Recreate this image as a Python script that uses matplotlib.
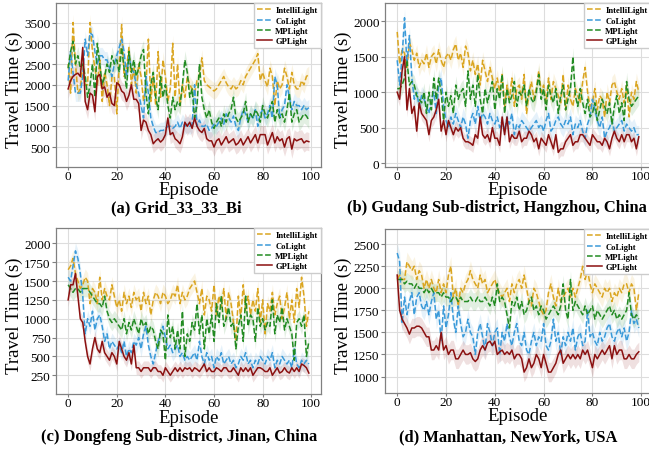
import numpy as np
import matplotlib
matplotlib.use("Agg")
import matplotlib.pyplot as plt

plt.rcParams['font.family'] = ['Liberation Serif', 'DejaVu Serif']

methods = ["IntelliLight", "CoLight", "MPLight", "GPLight"]
colors = ["#DAA520", "#3A9AD9", "#228B22", "#8B1010"]
styles = ["--", "--", "--", "-"]

# (a) Grid_33_33_Bi
a_intelli = [2500, 1800, 3500, 2500, 1800, 1900, 2500, 2000, 2000, 3500,
             2800, 2400, 2000, 2600, 1600, 2300, 2000, 1500, 2200, 2200,
             1300, 2500, 3450, 2200, 2400, 2900, 2000, 2400, 1800, 2500,
             2200, 1600, 2000, 3100, 1600, 2200, 1500, 2800, 1700, 2600,
             2200, 1600, 1900, 3000, 1700, 2500, 1500, 2000, 1700, 2200,
             2000, 1900, 1800, 2100, 2200, 2650, 2100, 2000, 1950, 1900,
             1850, 1900, 2000, 2100, 2200, 2050, 1950, 1900, 2000, 1900,
             1950, 2100, 2000, 2200, 2300, 2400, 2500, 2600, 2750, 2100,
             2300, 2100, 1950, 2400, 2200, 1500, 2100, 1900, 2000, 2400,
             2200, 1900, 2300, 2000, 1900, 1900, 2100, 2000, 2200, 2250]
a_co = [2100, 2800, 2300, 1800, 1800, 1800, 2200, 3100, 2700, 3250,
        3200, 2800, 2500, 2700, 2700, 2600, 2600, 2400, 2200, 2500,
        2700, 2900, 3100, 2800, 2200, 2700, 2400, 2300, 2000, 1800,
        1500, 1200, 2200, 1800, 1200, 1000, 850, 850, 900, 900,
        950, 1000, 1000, 950, 1000, 1100, 950, 1100, 1000, 1050,
        1000, 1050, 2000, 1000, 1150, 1000, 1000, 1050, 900, 950,
        1050, 1000, 1100, 1200, 1050, 1300, 1200, 1100, 1250, 1000,
        900, 1200, 1400, 1300, 1100, 1300, 1200, 1400, 1000, 1300,
        1400, 1200, 1300, 1500, 1200, 2200, 2000, 1200, 1400, 1500,
        2000, 1700, 1400, 1600, 1500, 1500, 1400, 1500, 1400, 1450]
a_mp = [2400, 2800, 3050, 2500, 2700, 2400, 2500, 2200, 1700, 2000,
        2500, 1700, 3000, 2500, 2000, 2200, 2500, 2300, 2700, 2500,
        2600, 2300, 2900, 2400, 1900, 2800, 2300, 2600, 2200, 2400,
        2700, 2850, 1800, 1300, 2000, 2300, 1700, 1400, 2200, 1700,
        2000, 1500, 1200, 1700, 1400, 1600, 1500, 2000, 2600, 2300,
        1700, 1900, 1200, 1500, 2500, 1700, 1400, 1200, 1400, 1100,
        950, 1100, 1200, 1000, 1300, 1100, 1300, 1400, 1700, 1200,
        1100, 1200, 1300, 1600, 1100, 1300, 1200, 1400, 1300, 1100,
        1500, 1300, 1200, 1400, 1600, 1100, 1400, 1200, 1300, 1100,
        1400, 1800, 1100, 1300, 1400, 1100, 1200, 1300, 1250, 1150]
a_gp = [1900, 2100, 2200, 2250, 2280, 2200, 2900, 1600, 1400, 1800,
        1750, 1350, 2200, 2250, 1900, 1950, 1700, 1800, 1550, 1500,
        2050, 2000, 1850, 1800, 1600, 1750, 2000, 1650, 1650, 1550,
        900, 1150, 1100, 900, 800, 580, 650, 700, 620, 680,
        800, 1200, 800, 850, 700, 650, 580, 750, 1100, 1000,
        1100, 950, 1200, 1000, 900, 850, 950, 700, 650, 650,
        500, 650, 700, 550, 650, 750, 600, 650, 700, 550,
        600, 700, 550, 650, 750, 600, 700, 800, 600, 800,
        800, 800, 550, 700, 850, 600, 750, 650, 700, 500,
        700, 750, 450, 700, 650, 680, 700, 600, 650, 630]

# (b) Gudang Sub-district, Hangzhou
b_intelli = [1850, 1400, 1600, 1550, 1350, 1700, 1600, 1450, 1550, 1350,
             1450, 1400, 1550, 1350, 1500, 1550, 1400, 1600, 1450, 1350,
             1500, 1550, 1450, 1600, 1680, 1450, 1550, 1350, 1650, 1550,
             1300, 1450, 1250, 1400, 1100, 1450, 1300, 1150, 1350, 1200,
             1050, 1200, 1000, 1250, 800, 1100, 900, 1200, 800, 1050,
             1100, 900, 1250, 700, 1000, 1150, 900, 1050, 1300, 1000,
             1100, 850, 1200, 900, 1150, 1050, 950, 850, 1250, 750,
             1100, 900, 800, 1050, 950, 850, 1150, 1350, 1000, 800,
             850, 1050, 750, 950, 900, 650, 1000, 850, 1100, 1150,
             1000, 900, 1050, 850, 1100, 650, 1000, 900, 1150, 1000]
b_co = [1450, 1100, 1500, 2050, 1400, 1800, 1200, 900, 1000, 800,
        950, 900, 800, 700, 900, 1000, 700, 1100, 1200, 800,
        600, 500, 650, 550, 700, 600, 500, 650, 550, 350,
        600, 700, 550, 800, 600, 700, 650, 550, 700, 600,
        550, 650, 500, 600, 450, 650, 550, 700, 400, 550,
        500, 600, 550, 500, 450, 500, 550, 600, 500, 550,
        450, 600, 700, 450, 500, 600, 650, 550, 500, 600,
        550, 650, 400, 550, 500, 600, 450, 350, 550, 650,
        900, 750, 600, 500, 650, 350, 450, 500, 600, 450,
        500, 550, 600, 450, 550, 500, 450, 500, 400, 400]
b_mp = [1050, 1050, 1100, 1200, 1450, 1100, 1150, 1100, 950, 900,
        850, 1000, 700, 1000, 750, 1200, 900, 1200, 1000, 600,
        1000, 800, 950, 700, 1100, 900, 1000, 1050, 800, 1300,
        900, 1100, 800, 1250, 900, 700, 1050, 850, 1000, 1150,
        750, 1050, 900, 1250, 700, 1050, 850, 950, 1150, 800,
        1000, 950, 1100, 800, 1050, 900, 850, 1000, 1250, 900,
        1050, 750, 1100, 950, 850, 1050, 700, 950, 1100, 750,
        900, 1050, 1500, 950, 800, 1050, 850, 700, 900, 650,
        700, 850, 600, 750, 900, 800, 700, 850, 550, 800,
        950, 700, 850, 600, 1150, 900, 800, 850, 900, 950]
b_gp = [1000, 900, 1300, 1500, 750, 1050, 700, 800, 450, 850,
        700, 650, 600, 400, 600, 650, 750, 900, 450, 600,
        400, 600, 500, 400, 500, 450, 500, 350, 300, 300,
        280, 250, 400, 350, 650, 400, 350, 400, 300, 500,
        350, 350, 250, 650, 400, 650, 300, 400, 350, 350,
        450, 300, 350, 350, 450, 400, 300, 350, 200, 350,
        300, 250, 400, 300, 200, 400, 150, 200, 200, 300,
        350, 400, 250, 300, 300, 400, 400, 350, 300, 250,
        400, 350, 300, 300, 250, 350, 300, 200, 350, 450,
        350, 300, 400, 300, 400, 400, 300, 350, 200, 370]

# (c) Dongfeng Sub-district, Jinan
c_intelli = [1650, 1700, 1800, 1600, 1500, 1400, 1450, 1550, 1500, 1200,
             1400, 1350, 1200, 1550, 1250, 1400, 1300, 1250, 1450, 1300,
             1150, 1250, 1100, 1350, 1200, 1300, 1150, 1350, 1250, 1300,
             1100, 1350, 1200, 1300, 1050, 1250, 1350, 1300, 1200, 1350,
             1300, 1200, 1250, 1350, 1300, 1450, 1200, 1350, 1250, 1300,
             1400, 1450, 1500, 1350, 1200, 1400, 1050, 1300, 1250, 1100,
             1450, 1050, 1300, 1150, 1400, 1000, 1350, 1200, 950, 700,
             1300, 1000, 1450, 1100, 1300, 1050, 1250, 1100, 1400, 950,
             1250, 800, 1200, 1100, 1350, 1050, 1200, 1300, 1000, 1150,
             1350, 1000, 1250, 950, 1400, 1150, 1550, 1300, 900, 1100]
c_co = [1550, 1500, 1700, 1900, 1800, 1600, 1300, 800, 1000, 900,
        1100, 850, 1000, 1050, 900, 700, 800, 600, 700, 650,
        600, 650, 550, 700, 500, 600, 550, 700, 650, 750,
        600, 800, 900, 650, 500, 400, 550, 700, 800, 900,
        750, 600, 650, 550, 600, 650, 500, 550, 450, 500,
        450, 500, 550, 450, 700, 500, 400, 550, 450, 500,
        350, 500, 450, 550, 400, 450, 500, 400, 450, 350,
        400, 500, 450, 550, 400, 450, 350, 450, 400, 500,
        450, 400, 500, 450, 550, 350, 450, 400, 500, 450,
        400, 450, 350, 600, 400, 350, 450, 400, 450, 400]
c_mp = [1450, 1400, 1350, 1400, 1400, 1350, 1400, 1400, 1400, 1350,
        1300, 1250, 1200, 1200, 1150, 1300, 1100, 1000, 950, 1000,
        950, 900, 850, 1000, 800, 950, 850, 1000, 900, 800,
        1000, 900, 950, 800, 900, 850, 700, 600, 850, 800,
        450, 1050, 750, 900, 600, 850, 600, 1100, 500, 800,
        700, 950, 850, 1200, 800, 1050, 600, 1000, 800, 1050,
        700, 1200, 950, 1300, 900, 1000, 1150, 900, 950, 600,
        900, 1050, 700, 1300, 900, 1050, 1000, 700, 1150, 900,
        1000, 850, 950, 900, 1250, 800, 1050, 950, 1150, 850,
        1000, 900, 800, 450, 950, 1000, 900, 1050, 500, 700]
c_gp = [1250, 1450, 1450, 1600, 1300, 1000, 950, 700, 500, 400,
        600, 750, 600, 550, 700, 550, 500, 450, 550, 500,
        400, 700, 600, 500, 450, 550, 400, 650, 350, 350,
        300, 350, 350, 350, 300, 350, 350, 300, 300, 250,
        350, 300, 250, 300, 350, 300, 350, 300, 350, 330,
        350, 300, 350, 330, 300, 350, 400, 300, 350, 300,
        300, 350, 330, 300, 350, 350, 300, 300, 350, 300,
        250, 350, 300, 350, 300, 350, 250, 300, 350, 350,
        330, 300, 300, 350, 250, 300, 350, 280, 300, 350,
        300, 280, 350, 300, 350, 300, 400, 380, 350, 280]

# (d) Manhattan, NewYork
d_intelli = [2100, 2150, 2100, 2100, 2300, 2250, 2200, 2250, 2100, 2200,
             2150, 2000, 2100, 2000, 2100, 2000, 1950, 2100, 1950, 2050,
             1950, 2150, 2250, 1900, 2000, 1800, 2000, 1950, 2050, 2100,
             2200, 2100, 2050, 2000, 2150, 2050, 2100, 1950, 2000, 2050,
             2100, 2000, 1950, 1900, 1950, 2000, 1850, 2050, 1950, 2050,
             2100, 2000, 2150, 2000, 1850, 1800, 2000, 1950, 1850, 1750,
             1700, 1750, 1950, 2050, 1900, 1800, 2000, 1850, 1900, 1950,
             2000, 1900, 2000, 1900, 2000, 2100, 2250, 2100, 2200, 2050,
             1950, 2050, 2000, 1950, 1900, 2000, 1950, 2000, 1850, 1950,
             1900, 2000, 1950, 2050, 2050, 1950, 2050, 2000, 1750, 1950]
d_co = [2400, 2300, 1600, 1900, 1700, 1850, 1950, 1700, 1900, 1950,
        1800, 1750, 1850, 1700, 1850, 1950, 1650, 1750, 1400, 1800,
        1550, 1700, 1950, 1650, 1500, 1800, 1600, 1450, 1500, 1650,
        1500, 1450, 1250, 1500, 1600, 1450, 1300, 1600, 1500, 1350,
        1500, 1550, 1250, 1500, 1400, 1600, 1450, 1350, 1500, 1600,
        1400, 1350, 1500, 1300, 1250, 1400, 1500, 1350, 1450, 1400,
        1600, 1350, 1300, 1400, 1650, 1400, 1500, 1250, 1450, 1350,
        1500, 1400, 1550, 1300, 1450, 1500, 1350, 1400, 1750, 1450,
        1500, 1400, 1350, 1500, 1400, 1450, 1550, 1600, 1450, 1400,
        1500, 1550, 1450, 1550, 1400, 1500, 1750, 1600, 1650, 1550]
d_mp = [2100, 2100, 2100, 2050, 2080, 2050, 2050, 2000, 2050, 2000,
        2000, 1950, 2000, 1950, 2000, 1950, 1950, 1950, 1900, 1950,
        1900, 1900, 1850, 1900, 1900, 1850, 1900, 1850, 1850, 1850,
        1900, 1850, 1850, 1900, 1850, 1850, 1900, 1850, 1800, 1900,
        1800, 2050, 1850, 1900, 1850, 1700, 1550, 1850, 1800, 1900,
        1750, 1850, 1700, 1750, 1850, 1900, 1750, 1800, 1700, 1800,
        1750, 1650, 1700, 1750, 1800, 1750, 1700, 1800, 2050, 1750,
        1650, 2100, 1750, 1850, 1800, 1750, 1700, 1800, 1700, 1750,
        1800, 1650, 1750, 1700, 1650, 1700, 1750, 1800, 1700, 1750,
        1650, 1700, 1650, 1700, 1750, 1950, 1700, 1650, 1700, 1650]
d_gp = [2150, 1750, 1650, 1600, 1550, 1480, 1550, 1550, 1570, 1570,
        1550, 1500, 1450, 1450, 1300, 1300, 1350, 1300, 1500, 1300,
        1350, 1250, 1300, 1300, 1200, 1200, 1250, 1300, 1250, 1250,
        1270, 1200, 1170, 1200, 1300, 1350, 1300, 1380, 1400, 1350,
        1400, 1250, 1280, 1300, 1250, 1280, 1250, 1300, 1200, 1250,
        1250, 1200, 1050, 1100, 1200, 1100, 1150, 1250, 1200, 1100,
        1250, 1150, 1050, 1050, 1100, 1150, 1250, 1300, 1150, 1200,
        1250, 1200, 1250, 1200, 1250, 1200, 1300, 1250, 1300, 1200,
        1100, 1250, 1200, 1250, 1300, 1250, 1300, 1350, 1200, 1350,
        1250, 1300, 1300, 1200, 1200, 1250, 1200, 1200, 1250, 1280]

# std band half-widths per method
a_spread = [200, 200, 220, 220]
b_spread = [120, 130, 130, 100]
c_spread = [110, 110, 110, 90]
d_spread = [110, 110, 100, 110]

captions = ["(a) Grid_33_33_Bi",
            "(b) Gudang Sub-district, Hangzhou, China",
            "(c) Dongfeng Sub-district, Jinan, China",
            "(d) Manhattan, NewYork, USA"]

panels = [
    dict(series=[a_intelli, a_co, a_mp, a_gp], spread=a_spread,
         yticks=[500, 1000, 1500, 2000, 2500, 3000, 3500], ylim=(20, 3970),
         pos=[56, 4, 321, 168], cap_xy=(176, 208)),
    dict(series=[b_intelli, b_co, b_mp, b_gp], spread=b_spread,
         yticks=[0, 500, 1000, 1500, 2000], ylim=(-56, 2258),
         pos=[385, 4, 651, 168], cap_xy=(497, 208)),
    dict(series=[c_intelli, c_co, c_mp, c_gp], spread=c_spread,
         yticks=[250, 500, 750, 1000, 1250, 1500, 1750, 2000], ylim=(2, 2203),
         pos=[56, 229, 321, 395], cap_xy=(179, 437)),
    dict(series=[d_intelli, d_co, d_mp, d_gp], spread=d_spread,
         yticks=[1000, 1250, 1500, 1750, 2000, 2250, 2500], ylim=(813, 2672),
         pos=[385, 230, 651, 394], cap_xy=(508, 437)),
]

W, H = 649, 452
fig = plt.figure(figsize=(W / 100, H / 100), dpi=100)

for p, cap in zip(panels, captions):
    l, t, r, b = p["pos"]
    ax = fig.add_axes([l / W, 1 - b / H, (r - l) / W, (b - t) / H])
    for vals, sd, name, col, ls in zip(p["series"], p["spread"], methods, colors, styles):
        y = np.array(vals, dtype=float)
        x = np.arange(len(y))
        ax.fill_between(x, y - sd, y + sd, color=col, alpha=0.13, lw=0)
        ax.plot(x, y, ls, color=col, lw=1.1, label=name)
    ax.set_xlim(-5, 104)
    ax.set_ylim(*p["ylim"])
    ax.set_xticks([0, 20, 40, 60, 80, 100])
    ax.set_yticks(p["yticks"])
    ax.grid(True, color="#dddddd", lw=0.8)
    ax.set_axisbelow(True)
    for s in ax.spines.values():
        s.set_color("#808080")
        s.set_linewidth(0.9)
    ax.tick_params(axis="x", labelsize=9.5, length=2, width=0.8,
                   color="#808080", pad=0.5)
    ax.tick_params(axis="y", labelsize=9.5, length=3, width=0.8,
                   color="#808080", pad=1)
    ax.set_xlabel("Episode", fontsize=13.5)
    ax.set_ylabel("Travel Time (s)", fontsize=13.5)
    ax.xaxis.set_label_coords(0.5, -0.088)
    ax.yaxis.set_label_coords(-0.125, 0.475)
    ax.legend(loc="upper right", prop=dict(size=6.2, weight="bold"),
              handlelength=1.75, handletextpad=0.35, labelspacing=0.25,
              borderpad=0.35, borderaxespad=0.05,
              framealpha=1, edgecolor="#cccccc", fancybox=False)
    cx, cy = p["cap_xy"]
    fig.text(cx / W, 1 - cy / H, cap, ha="center", va="center",
             fontsize=11.9, fontweight="bold")

fig.savefig("out.png", dpi=100)
